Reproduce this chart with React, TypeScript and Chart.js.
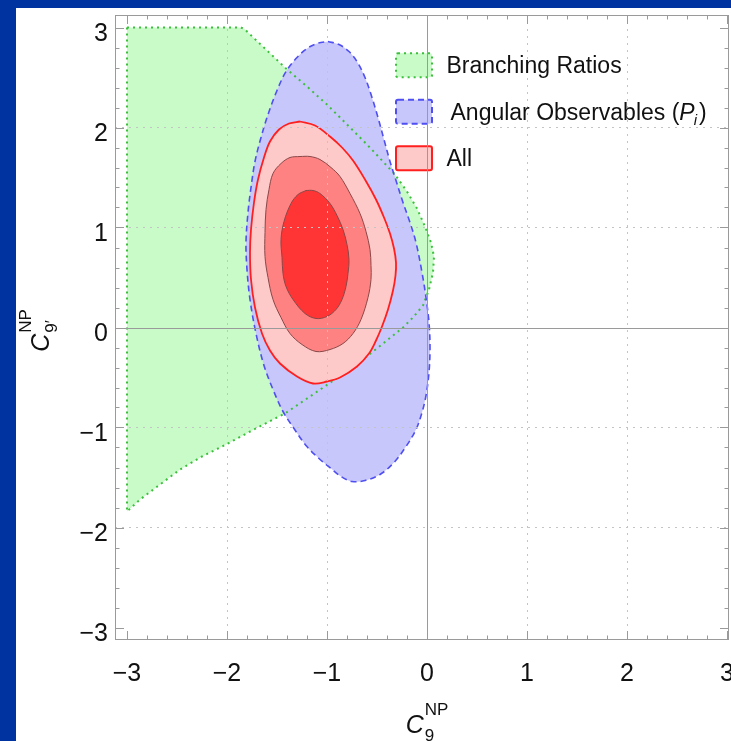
import React, { useEffect, useRef } from 'react';
import { Chart, registerables } from 'chart.js';

Chart.register(...registerables);

// Allowed regions in the (C9^NP, C9'^NP) plane, as closed contours [C9, C9'].
const BRANCHING_RATIOS: [number, number][] = [
  [-3.0, 3.0], [-1.86, 3.0], [-1.82, 2.98], [-1.79, 2.95], [-1.6, 2.77], [-1.41, 2.59],
  [-1.2, 2.41], [-1.0, 2.23], [-0.8, 2.03], [-0.6, 1.83], [-0.44, 1.66], [-0.32, 1.53],
  [-0.2, 1.36], [-0.1, 1.19], [-0.02, 1.01], [0.04, 0.85], [0.07, 0.71], [0.06, 0.55],
  [0.02, 0.38], [-0.04, 0.22], [-0.14, 0.1], [-0.24, 0.0], [-0.5, -0.21], [-0.82, -0.45],
  [-1.14, -0.67], [-1.42, -0.86], [-1.52, -0.91], [-1.75, -1.03], [-2.01, -1.17],
  [-2.25, -1.29], [-2.47, -1.42], [-2.67, -1.57], [-2.87, -1.72], [-3.0, -1.84], [-3.0, 3.0],
];

const ANGULAR_OBSERVABLES: [number, number][] = [
  [-0.99, 2.86], [-0.88, 2.83], [-0.78, 2.76], [-0.7, 2.66], [-0.62, 2.5], [-0.55, 2.3],
  [-0.49, 2.1], [-0.43, 1.88], [-0.37, 1.66], [-0.31, 1.47], [-0.24, 1.25], [-0.17, 1.05],
  [-0.11, 0.85], [-0.05, 0.55], [-0.01, 0.3], [0.02, 0.05], [0.03, -0.2], [0.02, -0.45],
  [-0.01, -0.68], [-0.05, -0.85], [-0.11, -1.02], [-0.21, -1.19], [-0.33, -1.35],
  [-0.47, -1.47], [-0.62, -1.53], [-0.75, -1.54], [-0.86, -1.49], [-0.96, -1.41],
  [-1.08, -1.31], [-1.21, -1.18], [-1.33, -1.01], [-1.44, -0.84], [-1.54, -0.62],
  [-1.63, -0.38], [-1.71, -0.06], [-1.77, 0.28], [-1.8, 0.58], [-1.81, 0.85], [-1.79, 1.15],
  [-1.76, 1.4], [-1.72, 1.66], [-1.66, 1.9], [-1.59, 2.13], [-1.5, 2.37], [-1.41, 2.56],
  [-1.3, 2.7], [-1.2, 2.79], [-1.1, 2.84], [-0.99, 2.86],
];

const ALL_3SIGMA: [number, number][] = [
  [-1.27, 2.06], [-1.12, 2.02], [-0.97, 1.91], [-0.85, 1.8], [-0.74, 1.67], [-0.62, 1.48],
  [-0.51, 1.28], [-0.43, 1.1], [-0.37, 0.94], [-0.33, 0.79], [-0.31, 0.65], [-0.315, 0.52],
  [-0.34, 0.37], [-0.39, 0.18], [-0.45, 0.01], [-0.51, -0.13], [-0.58, -0.26], [-0.7, -0.39],
  [-0.87, -0.5], [-1.0, -0.54], [-1.14, -0.56], [-1.3, -0.49], [-1.47, -0.36], [-1.57, -0.23],
  [-1.65, -0.06], [-1.72, 0.2], [-1.76, 0.48], [-1.77, 0.75], [-1.76, 0.98], [-1.73, 1.25],
  [-1.69, 1.48], [-1.63, 1.7], [-1.57, 1.86], [-1.48, 1.98], [-1.38, 2.04], [-1.27, 2.06],
];

const ALL_2SIGMA: [number, number][] = [
  [-1.27, 1.71], [-1.17, 1.71], [-1.07, 1.68], [-0.96, 1.6], [-0.87, 1.51], [-0.77, 1.34],
  [-0.67, 1.14], [-0.61, 0.96], [-0.57, 0.78], [-0.56, 0.62], [-0.56, 0.48], [-0.59, 0.3],
  [-0.66, 0.08], [-0.74, -0.06], [-0.84, -0.16], [-0.97, -0.22], [-1.11, -0.24], [-1.25, -0.17],
  [-1.37, -0.06], [-1.46, 0.1], [-1.54, 0.28], [-1.59, 0.5], [-1.62, 0.71], [-1.62, 0.95],
  [-1.61, 1.18], [-1.58, 1.38], [-1.54, 1.54], [-1.46, 1.64], [-1.37, 1.7], [-1.27, 1.71],
];

const ALL_1SIGMA: [number, number][] = [
  [-1.21, 1.37], [-1.14, 1.37], [-1.07, 1.34], [-0.97, 1.24], [-0.9, 1.12], [-0.84, 0.98],
  [-0.8, 0.83], [-0.78, 0.68], [-0.79, 0.54], [-0.81, 0.41], [-0.85, 0.28], [-0.91, 0.18],
  [-1.0, 0.11], [-1.11, 0.09], [-1.22, 0.14], [-1.34, 0.28], [-1.41, 0.41], [-1.44, 0.54],
  [-1.45, 0.7], [-1.46, 0.88], [-1.43, 1.06], [-1.36, 1.24], [-1.29, 1.33], [-1.21, 1.37],
];

const X_TICKS = [-3, -2, -1, 0, 1, 2, 3];
const Y_TICKS = [-3, -2, -1, 0, 1, 2, 3];
const TICK_LABELS = ['\u22123', '\u22122', '\u22121', '0', '1', '2', '3'];
const MINOR_TICKS = [
  -2.8, -2.6, -2.4, -2.2, -1.8, -1.6, -1.4, -1.2, -0.8, -0.6, -0.4, -0.2,
  0.2, 0.4, 0.6, 0.8, 1.2, 1.4, 1.6, 1.8, 2.2, 2.4, 2.6, 2.8,
];
const X_RANGE = [-3.12, 3.02];
const Y_RANGE = [-3.125, 3.125];

const LEGEND_LABELS = ['Branching Ratios', 'Angular Observables', 'All'];

// Styling
const FONT = "'Liberation Sans', Arial, Helvetica, sans-serif";
const PAGE_BLUE = '#0033a0';
const FRAME_COLOR = '#9a9a9a';
const GRID_COLOR = '#c4c4c4';
const TEXT_COLOR = '#111111';
const GREEN_FILL = '#c9fbc9';
const GREEN_LINE = '#3cbf3c';
const BLUE_FILL = '#c7c7fb';
const BLUE_LINE = '#4f4ff2';
const RED3_FILL = '#fec9c9';
const RED3_LINE = '#ff1f1f';
const RED2_FILL = '#ff8282';
const RED1_FILL = '#ff3434';
const INNER_LINE = '#8a4848';
const GREEN_DASH = [2, 4];
const BLUE_DASH = [6, 4];
const TICK_FONT = `25px ${FONT}`;
const TITLE_FONT = `italic 25px ${FONT}`;
const SCRIPT_FONT = `17px ${FONT}`;

const toPoints = (pts: [number, number][]) => pts.map(([x, y]) => ({ x, y }));

const region = (label: string, pts: [number, number][], extra: Record<string, unknown>) => ({
  label,
  data: toPoints(pts),
  pointRadius: 0,
  pointHoverRadius: 0,
  ...extra,
});

const LEGEND_STYLES = [
  { fill: GREEN_FILL, stroke: GREEN_LINE, dash: GREEN_DASH, width: 2 },
  { fill: BLUE_FILL, stroke: BLUE_LINE, dash: BLUE_DASH, width: 2 },
  { fill: RED3_FILL, stroke: RED3_LINE, dash: [] as number[], width: 2 },
];

function drawLegend(ctx: CanvasRenderingContext2D, a: { left: number; top: number }) {
  const boxX = a.left + 281;
  const boxW = 36;
  const boxH = 24;
  const textX = a.left + 331.5;
  LEGEND_LABELS.forEach((label, i) => {
    const st = LEGEND_STYLES[i];
    const top = a.top + 38.3 + i * 46.5;
    ctx.save();
    ctx.beginPath();
    if ((ctx as any).roundRect) (ctx as any).roundRect(boxX, top, boxW, boxH, 2);
    else ctx.rect(boxX, top, boxW, boxH);
    ctx.fillStyle = st.fill;
    ctx.fill();
    ctx.setLineDash(st.dash);
    ctx.lineWidth = st.width;
    ctx.strokeStyle = st.stroke;
    ctx.stroke();
    ctx.restore();

    const base = top + boxH / 2 + 8;
    ctx.fillStyle = TEXT_COLOR;
    ctx.textAlign = 'left';
    ctx.textBaseline = 'alphabetic';
    ctx.font = `23px ${FONT}`;
    if (i === 1) {
      let x = textX + 4;
      const head = label + ' (';
      ctx.fillText(head, x, base);
      x += ctx.measureText(head).width;
      ctx.font = `italic 23px ${FONT}`;
      ctx.fillText('P', x, base);
      x += ctx.measureText('P').width;
      ctx.font = `italic 15px ${FONT}`;
      ctx.fillText('i', x - 1, base + 5);
      x += ctx.measureText('i').width + 1;
      ctx.font = `23px ${FONT}`;
      ctx.fillText(')', x, base);
    } else {
      ctx.fillText(label, textX, base);
    }
  });
}

const decorations = {
  id: 'decorations',
  afterDraw(chart: any) {
    const { ctx, chartArea: a } = chart;
    const xs = chart.scales.x;
    const ys = chart.scales.y;
    ctx.save();

    drawLegend(ctx, a);

    // zero axes, frame and inward ticks
    ctx.strokeStyle = FRAME_COLOR;
    ctx.lineWidth = 1;
    ctx.setLineDash([]);
    const px0 = Math.round(xs.getPixelForValue(0)) + 0.5;
    const py0 = Math.round(ys.getPixelForValue(0)) + 0.5;
    ctx.beginPath();
    ctx.moveTo(px0, a.top);
    ctx.lineTo(px0, a.bottom);
    ctx.moveTo(a.left, py0);
    ctx.lineTo(a.right, py0);
    ctx.stroke();
    ctx.strokeRect(a.left + 0.5, a.top + 0.5, a.right - a.left - 1, a.bottom - a.top - 1);

    const tick = (v: number, len: number) => {
      const px = Math.round(xs.getPixelForValue(v)) + 0.5;
      const py = Math.round(ys.getPixelForValue(v)) + 0.5;
      ctx.moveTo(px, a.bottom);
      ctx.lineTo(px, a.bottom - len);
      ctx.moveTo(px, a.top);
      ctx.lineTo(px, a.top + len);
      ctx.moveTo(a.left, py);
      ctx.lineTo(a.left + len, py);
      ctx.moveTo(a.right, py);
      ctx.lineTo(a.right - len, py);
    };
    ctx.beginPath();
    X_TICKS.forEach((v) => tick(v, 9));
    MINOR_TICKS.forEach((v) => tick(v, 4.5));
    ctx.stroke();

    // tick labels
    ctx.fillStyle = TEXT_COLOR;
    ctx.font = TICK_FONT;
    ctx.textBaseline = 'alphabetic';
    ctx.textAlign = 'center';
    X_TICKS.forEach((v, i) => ctx.fillText(TICK_LABELS[i], xs.getPixelForValue(v), a.bottom + 41));
    ctx.textAlign = 'right';
    Y_TICKS.forEach((v, i) => ctx.fillText(TICK_LABELS[i], a.left - 7, ys.getPixelForValue(v) + 13.5));

    // axis titles: C_9^NP and C_9'^NP
    ctx.textAlign = 'left';
    ctx.font = TITLE_FONT;
    const wC = ctx.measureText('C').width;
    ctx.font = SCRIPT_FONT;
    const wNP = ctx.measureText('NP').width;
    const total = wC + 1 + wNP;

    let x0 = xs.getPixelForValue(0) - total / 2;
    ctx.font = TITLE_FONT;
    ctx.fillText('C', x0, a.bottom + 93);
    ctx.font = SCRIPT_FONT;
    ctx.fillText('NP', x0 + wC + 1, a.bottom + 75);
    ctx.fillText('9', x0 + wC + 1, a.bottom + 101);

    ctx.save();
    ctx.translate(a.left - 66, ys.getPixelForValue(0) + 3);
    ctx.rotate(-Math.PI / 2);
    x0 = -total / 2;
    ctx.font = TITLE_FONT;
    ctx.fillText('C', x0, 0);
    ctx.font = SCRIPT_FONT;
    ctx.fillText('NP', x0 + wC + 1, -18);
    ctx.fillText('9\u2032', x0 + wC + 1, 8);
    ctx.restore();

    ctx.restore();
  },
};

export default function App() {
  const ref = useRef<HTMLCanvasElement>(null);

  useEffect(() => {
    if (!ref.current) return;
    const gridColor = (c: any) =>
      c.tick && (Math.abs(c.tick.value) === 3 || c.tick.value === 0) ? 'rgba(0,0,0,0)' : GRID_COLOR;
    const chart = new Chart(ref.current, {
      type: 'line',
      data: {
        datasets: [
          region('All 1σ', ALL_1SIGMA, {
            fill: 'shape', backgroundColor: RED1_FILL, borderColor: INNER_LINE,
            borderWidth: 1, tension: 0.35, order: 1,
          }),
          region('All 2σ', ALL_2SIGMA, {
            fill: 'shape', backgroundColor: RED2_FILL, borderColor: INNER_LINE,
            borderWidth: 1, tension: 0.35, order: 2,
          }),
          region('All', ALL_3SIGMA, {
            fill: 'shape', backgroundColor: RED3_FILL, borderColor: RED3_LINE,
            borderWidth: 1.8, tension: 0.35, order: 3,
          }),
          region('Angular Observables border', ANGULAR_OBSERVABLES, {
            fill: false, borderColor: BLUE_LINE, borderDash: BLUE_DASH,
            borderWidth: 1.6, tension: 0.35, order: 4,
          }),
          region('Branching Ratios border', BRANCHING_RATIOS, {
            fill: false, borderColor: GREEN_LINE, borderDash: GREEN_DASH,
            borderWidth: 2, tension: 0, order: 5,
          }),
          region('Angular Observables', ANGULAR_OBSERVABLES, {
            fill: 'shape', backgroundColor: BLUE_FILL, borderColor: 'rgba(0,0,0,0)',
            borderWidth: 1, tension: 0.35, order: 6,
          }),
          region('Branching Ratios', BRANCHING_RATIOS, {
            fill: 'shape', backgroundColor: GREEN_FILL, borderColor: 'rgba(0,0,0,0)',
            borderWidth: 1, tension: 0, order: 7,
          }),
        ],
      },
      options: {
        animation: false,
        responsive: false,
        events: [],
        layout: { autoPadding: false, padding: { left: 99, top: 7, right: 2, bottom: 101 } },
        plugins: { legend: { display: false }, tooltip: { enabled: false } },
        scales: {
          x: {
            type: 'linear',
            min: X_RANGE[0],
            max: X_RANGE[1],
            ticks: { display: false, stepSize: 1, includeBounds: false },
            border: { display: false, dash: [2, 5] },
            grid: { z: 1, drawTicks: false, lineWidth: 1, color: gridColor },
          },
          y: {
            type: 'linear',
            min: Y_RANGE[0],
            max: Y_RANGE[1],
            ticks: { display: false, stepSize: 1, includeBounds: false },
            border: { display: false, dash: [2, 5] },
            grid: { z: 1, drawTicks: false, lineWidth: 1, color: gridColor },
          },
        },
      } as any,
      plugins: [decorations],
    });
    return () => chart.destroy();
  }, []);

  return (
    <div
      style={{
        position: 'fixed', left: 0, top: 0, width: 731, height: 741,
        background: PAGE_BLUE, overflow: 'hidden',
      }}
    >
      <canvas
        ref={ref}
        width={715}
        height={733}
        style={{ position: 'absolute', left: 16, top: 8, width: 715, height: 733, background: '#ffffff' }}
      />
    </div>
  );
}
